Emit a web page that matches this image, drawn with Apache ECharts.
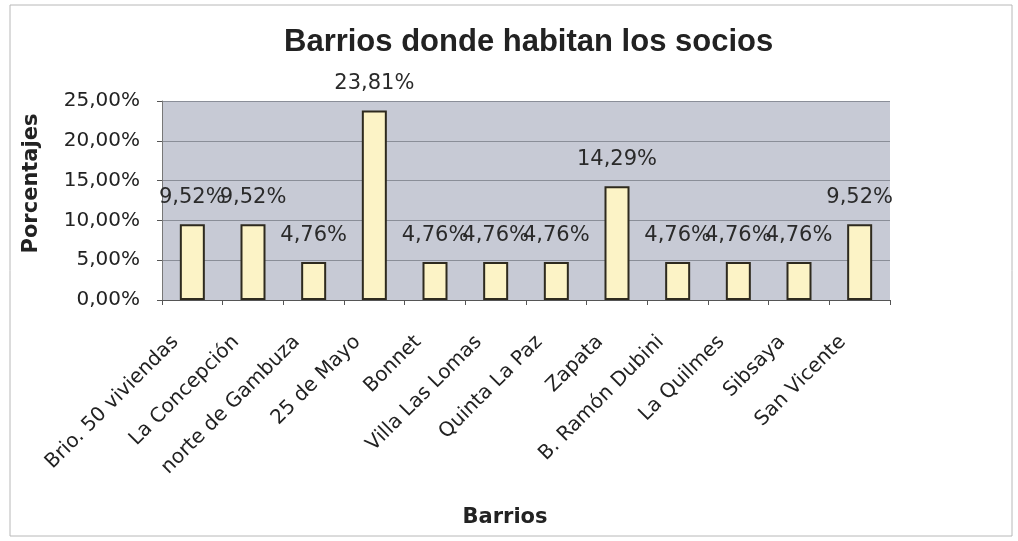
<!DOCTYPE html>
<html>
<head>
<meta charset="utf-8">
<script src="https://cdn.jsdelivr.net/npm/echarts@6/dist/echarts.min.js"></script>
<style>
  html, body { margin: 0; padding: 0; background: #ffffff; }
  #chart { width: 1018px; height: 541px; }
</style>
</head>
<body>
<div id="chart"></div>
<script>
// Barrios y porcentaje de socios que habitan en cada uno
const barrios = [
  'Brio. 50 viviendas', 'La Concepción', 'norte de Gambuza', '25 de Mayo',
  'Bonnet', 'Villa Las Lomas', 'Quinta La Paz', 'Zapata',
  'B. Ramón Dubini', 'La Quilmes', 'Sibsaya', 'San Vicente'
];
const porcentajes = [9.52, 9.52, 4.76, 23.81, 4.76, 4.76, 4.76, 14.29, 4.76, 4.76, 4.76, 9.52];
const yTicks = [0, 5, 10, 15, 20, 25];

const fmt = v => v.toFixed(2).replace('.', ',') + '%';
const wide = 'DejaVu Sans, Verdana, sans-serif';
const sans = 'Liberation Sans, Arial, sans-serif';

const chart = echarts.init(document.getElementById('chart'));
chart.setOption({
  backgroundColor: '#ffffff',
  animation: false,
  graphic: [{
    type: 'rect',
    shape: { x: 10, y: 5, width: 1002, height: 531 },
    style: { fill: 'none', stroke: '#b8b8b8', lineWidth: 1 },
    silent: true
  }],
  title: {
    text: 'Barrios donde habitan los socios',
    left: 279,
    top: 22,
    textStyle: { fontFamily: sans, fontWeight: 'bold', fontSize: 31, color: '#222222' }
  },
  grid: {
    left: 162, right: 128, top: 101, bottom: 241,
    show: true, backgroundColor: '#c7cad5', borderColor: '#c7cad5', borderWidth: 0
  },
  xAxis: {
    type: 'category',
    data: barrios,
    name: 'Barrios',
    nameLocation: 'middle',
    nameGap: 207,
    nameTextStyle: {
      fontFamily: wide, fontWeight: 'bold', fontSize: 21, color: '#222222',
      padding: [0, 42, 0, 0]
    },
    axisLine: { lineStyle: { color: '#555555', width: 1 } },
    axisTick: { show: true, length: 5, lineStyle: { color: '#555555' } },
    axisLabel: {
      rotate: 45, fontFamily: wide, fontSize: 20, color: '#222222',
      margin: 22, padding: [0, 24, 0, 0], interval: 0
    }
  },
  yAxis: {
    type: 'value',
    min: yTicks[0],
    max: yTicks[yTicks.length - 1],
    interval: 5,
    name: 'Porcentajes',
    nameLocation: 'middle',
    nameGap: 120,
    nameRotate: 90,
    nameTextStyle: {
      fontFamily: wide, fontWeight: 'bold', fontSize: 21, color: '#222222',
      padding: [0, 0, 0, 34]
    },
    axisLine: { show: true, lineStyle: { color: '#777777' } },
    axisTick: { show: true, length: 5, lineStyle: { color: '#555555' } },
    axisLabel: {
      fontFamily: wide, fontSize: 20, color: '#222222', margin: 22,
      formatter: v => fmt(v)
    },
    splitLine: { show: true, lineStyle: { color: '#8a8e98', width: 1 } }
  },
  series: [{
    type: 'bar',
    data: porcentajes,
    barWidth: 25,
    itemStyle: { color: '#fcf3c6', borderColor: '#2e2a1e', borderWidth: 2 },
    label: {
      show: true,
      position: 'top',
      distance: 16,
      fontFamily: wide,
      fontSize: 21,
      color: '#2a2a2a',
      formatter: p => fmt(p.value)
    }
  }]
});
</script>
</body>
</html>
